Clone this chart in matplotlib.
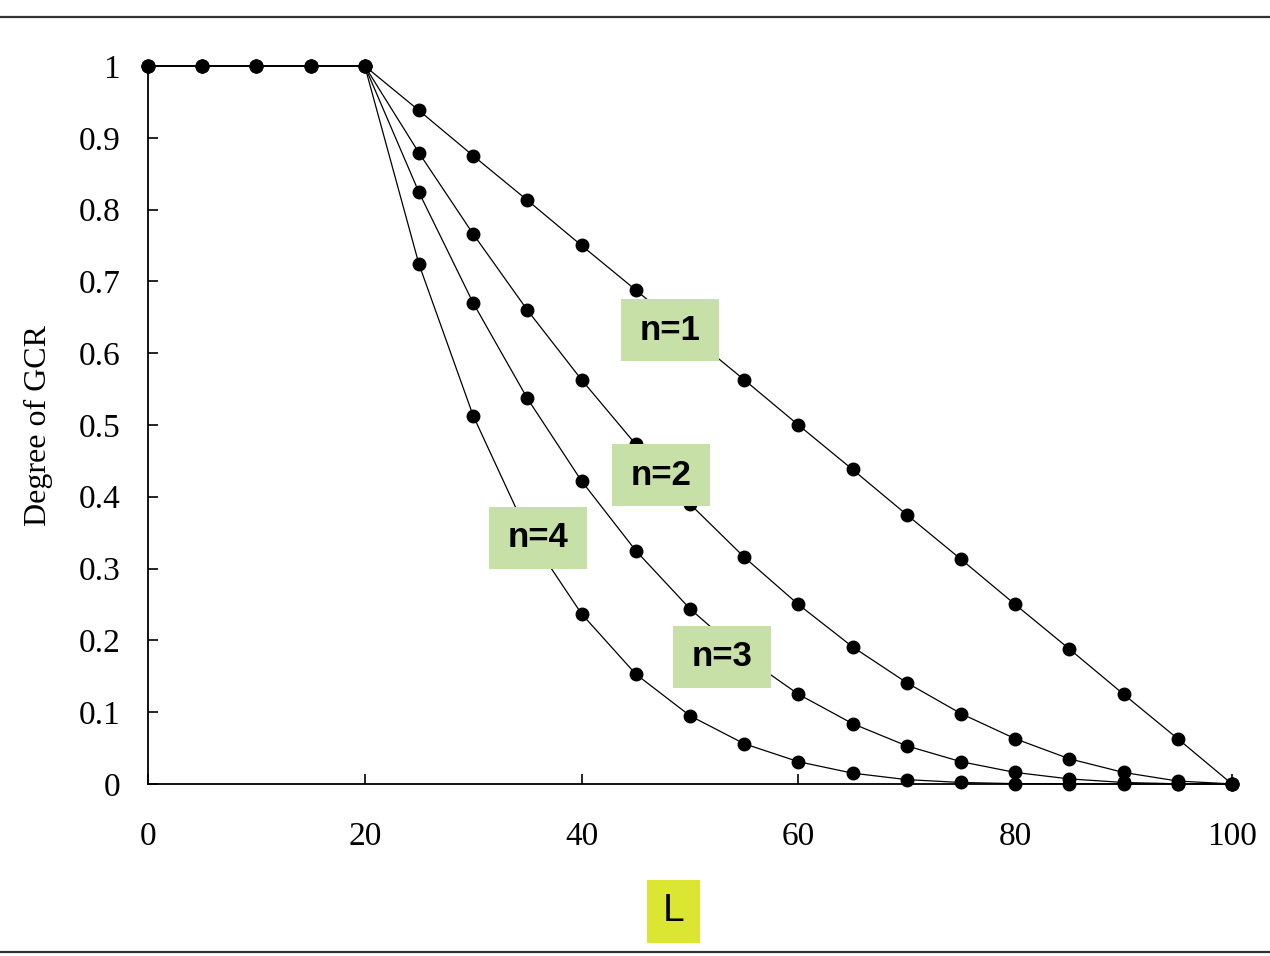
import matplotlib
matplotlib.use("Agg")
import matplotlib.pyplot as plt
from matplotlib.patches import Rectangle
from matplotlib.lines import Line2D

# data
L = [0, 5, 10, 15, 20, 25, 30, 35, 40, 45, 50, 55, 60, 65, 70, 75, 80, 85, 90, 95, 100]
n1 = [1, 1, 1, 1, 1, 0.938, 0.875, 0.813, 0.75, 0.688, 0.625, 0.563, 0.5, 0.438, 0.375, 0.313, 0.25, 0.188, 0.125, 0.063, 0]
n2 = [1, 1, 1, 1, 1, 0.879, 0.766, 0.66, 0.563, 0.473, 0.39, 0.316, 0.25, 0.191, 0.141, 0.098, 0.063, 0.035, 0.016, 0.004, 0]
n3 = [1, 1, 1, 1, 1, 0.824, 0.67, 0.537, 0.422, 0.325, 0.244, 0.178, 0.125, 0.084, 0.053, 0.031, 0.016, 0.007, 0.002, 0.0002, 0]
n4 = [1, 1, 1, 1, 1, 0.724, 0.513, 0.35, 0.237, 0.153, 0.095, 0.056, 0.031, 0.015, 0.006, 0.002, 0.0004, 0.0001, 0, 0, 0]
series = [n1, n2, n3, n4]

# label boxes: text, centre x, centre y (data units)
labels = [("n=1", 48.2, 0.632), ("n=2", 47.3, 0.430), ("n=3", 53.0, 0.177), ("n=4", 36.0, 0.343)]

fig = plt.figure(figsize=(12.7, 9.56), dpi=100)
ax = fig.add_axes([0.1165, 0.18, 0.8535, 0.751])

for s in series:
    ax.plot(L, s, color="black", lw=0.9, marker="o", markersize=9, clip_on=False, zorder=3)

ax.set_xlim(0, 100)
ax.set_ylim(0, 1)
ax.spines["top"].set_visible(False)
ax.spines["right"].set_visible(False)
ax.spines["left"].set_linewidth(1.3)
ax.spines["bottom"].set_linewidth(1.3)

ax.set_xticks([0, 20, 40, 60, 80, 100])
ax.set_yticks([0, 0.1, 0.2, 0.3, 0.4, 0.5, 0.6, 0.7, 0.8, 0.9, 1])
ax.set_yticklabels(["0", "0.1", "0.2", "0.3", "0.4", "0.5", "0.6", "0.7", "0.8", "0.9", "1"])
ax.tick_params(direction="in", length=7, width=1.2)
ax.tick_params(axis="x", pad=27)
ax.tick_params(axis="y", pad=20)
for t in ax.get_xticklabels() + ax.get_yticklabels():
    t.set_fontfamily("Liberation Serif")
    t.set_fontsize(24)

fig.text(0.03, 0.555, "Degree of GCR", rotation=90, ha="center", va="center",
         fontfamily="Liberation Serif", fontsize=23)

# green label boxes on top of the curves
bw, bh = 9.05, 0.0864
for txt, cx, cy in labels:
    ax.add_patch(Rectangle((cx - bw / 2, cy - bh / 2), bw, bh, facecolor="#c6e0a8",
                           edgecolor="none", zorder=5))
    ax.text(cx, cy, txt, ha="center", va="center", fontfamily="Liberation Sans",
            fontweight="bold", fontsize=25, zorder=6)

# x axis label in yellow box
fig.add_artist(Rectangle((647 / 1270, 1 - 943 / 956), 53 / 1270, 63 / 956,
                         facecolor="#dae631", edgecolor="none", transform=fig.transFigure))
fig.text(0.530, 0.047, "L", ha="center", va="center", fontfamily="Liberation Sans", fontsize=28)

# frame lines at top and bottom
fig.add_artist(Line2D([0, 1], [1 - 16.5 / 956] * 2, color="#333333", lw=1.6, transform=fig.transFigure))
fig.add_artist(Line2D([0, 1], [1 - 952 / 956] * 2, color="#333333", lw=1.6, transform=fig.transFigure))

fig.savefig("out.png", dpi=100)
